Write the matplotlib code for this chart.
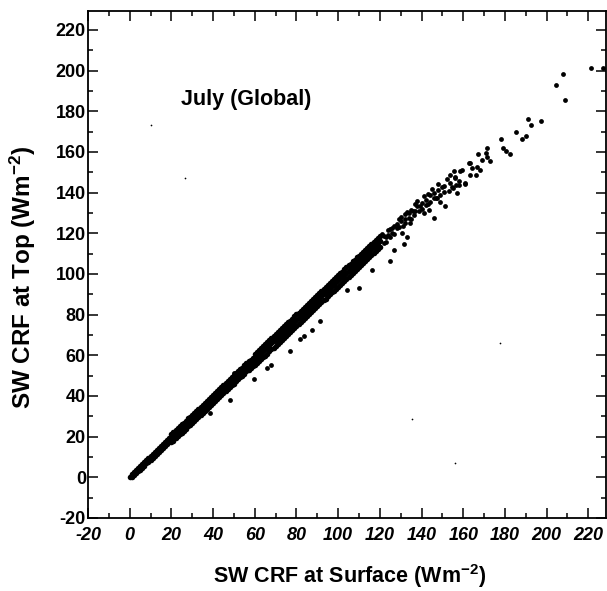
import matplotlib
matplotlib.use("Agg")
import matplotlib.pyplot as plt
from matplotlib.ticker import MultipleLocator

plt.rcParams['font.family'] = ['Liberation Sans', 'DejaVu Sans']
plt.rcParams['mathtext.fontset'] = 'custom'
plt.rcParams['mathtext.rm'] = 'Liberation Sans:bold'
plt.rcParams['mathtext.bf'] = 'Liberation Sans:bold'
plt.rcParams['mathtext.it'] = 'Liberation Sans:bold:italic'
plt.rcParams['axes.unicode_minus'] = False

# ---- data (SW CRF surface, SW CRF top) ----
center_x = [0, 2, 4, 6, 8, 10, 12, 14, 16, 18, 20, 22, 24, 26, 28, 30, 32, 34, 36, 38,
            40, 42, 44, 46, 48, 50, 52, 54, 56, 58, 60, 62, 64, 66, 68, 70, 72, 74, 76, 78,
            80, 82, 84, 86, 88, 90, 92, 94, 96, 98, 100, 102, 104, 106, 108, 110, 112, 114,
            116, 118, 120]
center_y = [0.2, 1.9, 3.9, 5.8, 7.8, 9.6, 11.7, 13.5, 15.6, 17.4, 19.4, 21.3, 23.3, 25.1,
            27.2, 29.0, 31.0, 32.9, 34.9, 36.7, 38.8, 40.6, 42.6, 44.5, 46.5, 48.3, 50.4,
            52.2, 54.3, 56.1, 58.1, 60.0, 62.0, 63.8, 65.9, 67.7, 69.7, 71.6, 73.6, 75.4,
            77.5, 79.3, 81.3, 83.2, 85.2, 87.0, 89.1, 90.9, 92.9, 94.8, 96.8, 98.6, 100.7,
            102.5, 104.5, 106.4, 108.4, 110.2, 112.3, 114.1, 116.1]

odd_x = [1, 3, 5, 7, 9, 11, 13, 15, 17, 19, 21, 23, 25, 27, 29, 31, 33, 35, 37, 39,
         41, 43, 45, 47, 49, 51, 53, 55, 57, 59, 61, 63, 65, 67, 69, 71, 73, 75, 77, 79,
         81, 83, 85, 87, 89, 91, 93, 95, 97, 99, 101, 103, 105, 107, 109, 111, 113, 115,
         117, 119]
center2_y = [1.0, 2.9, 4.8, 6.8, 8.7, 10.6, 12.6, 14.5, 16.5, 18.4, 20.3, 22.3, 24.2,
             26.1, 28.1, 30.0, 31.9, 33.9, 35.8, 37.8, 39.7, 41.6, 43.6, 45.5, 47.4, 49.4,
             51.3, 53.2, 55.2, 57.1, 59.0, 61.0, 62.9, 64.9, 66.8, 68.7, 70.7, 72.6, 74.5,
             76.5, 78.4, 80.3, 82.3, 84.2, 86.2, 88.1, 90.0, 92.0, 93.9, 95.8, 97.8, 99.7,
             101.6, 103.6, 105.5, 107.4, 109.4, 111.3, 113.3, 115.2]
upper_y = [1.8, 3.7, 5.6, 7.6, 9.5, 11.4, 13.4, 15.3, 17.3, 19.2, 22.1, 24.1, 26.0, 27.9,
           29.9, 31.8, 33.7, 35.7, 37.6, 39.6, 41.5, 43.4, 45.4, 47.3, 49.2, 51.2, 53.1,
           55.0, 57.0, 58.9, 61.6, 63.6, 65.5, 67.5, 69.4, 71.3, 73.3, 75.2, 77.1, 79.1,
           81.0, 82.9, 84.9, 86.8, 88.8, 90.7, 92.6, 94.6, 96.5, 98.4, 100.4, 102.3, 104.2,
           106.2, 108.1, 110.0, 112.0, 113.9, 115.9, 117.8]
lower_y = [0.0, 1.9, 3.8, 5.8, 7.7, 9.6, 11.6, 13.5, 15.5, 17.4, 18.1, 20.1, 22.0, 23.9,
           25.9, 27.8, 29.7, 31.7, 33.6, 35.6, 37.5, 39.4, 41.4, 43.3, 45.2, 47.2, 49.1,
           51.0, 53.0, 54.9, 56.0, 58.0, 59.9, 61.9, 63.8, 65.7, 67.7, 69.6, 71.5, 73.5,
           75.4, 77.3, 79.3, 81.2, 83.2, 85.1, 87.0, 89.0, 90.9, 92.8, 94.8, 96.7, 98.6,
           100.6, 102.5, 104.4, 106.4, 108.3, 110.3, 112.2]

even_x = [2, 4, 6, 8, 10, 12, 14, 16, 18, 20, 22, 24, 26, 28, 30, 32, 34, 36, 38, 40,
          42, 44, 46, 48, 50, 52, 54, 56, 58, 60, 62, 64, 66, 68, 70, 72, 74, 76, 78, 80,
          82, 84, 86, 88, 90, 92, 94, 96, 98, 100, 102, 104, 106, 108, 110, 112, 114, 116,
          118, 120]
upper2_y = [2.7, 4.7, 6.6, 8.6, 10.4, 12.5, 14.3, 16.4, 18.2, 21.2, 23.1, 25.1, 26.9,
            29.0, 30.8, 32.8, 34.7, 36.7, 38.5, 40.6, 42.4, 44.4, 46.3, 48.3, 50.1, 52.2,
            54.0, 56.1, 57.9, 60.7, 62.6, 64.6, 66.4, 68.5, 70.3, 72.3, 74.2, 76.2, 78.0,
            80.1, 81.9, 83.9, 85.8, 87.8, 89.6, 91.7, 93.5, 95.5, 97.4, 99.4, 101.2, 103.3,
            105.1, 107.1, 109.0, 111.0, 112.8, 114.9, 116.7, 118.7]
lower2_y = [0.9, 2.9, 4.8, 6.8, 8.6, 10.7, 12.5, 14.6, 16.4, 17.2, 19.1, 21.1, 22.9,
            25.0, 26.8, 28.8, 30.7, 32.7, 34.5, 36.6, 38.4, 40.4, 42.3, 44.3, 46.1, 48.2,
            50.0, 52.1, 53.9, 55.1, 57.0, 59.0, 60.8, 62.9, 64.7, 66.7, 68.6, 70.6, 72.4,
            74.5, 76.3, 78.3, 80.2, 82.2, 84.0, 86.1, 87.9, 89.9, 91.8, 93.8, 95.6, 97.7,
            99.5, 101.5, 103.4, 105.4, 107.2, 109.3, 111.1, 113.1]

upper_band_x = [122, 124, 126, 128, 130, 132, 134, 136, 138, 140, 142, 144, 146, 148,
                123, 127, 131, 135, 139, 143, 147, 125, 129, 133, 137, 141, 145,
                121.8, 125.0, 128.2, 130.6, 133.0, 134.6, 136.2, 139.4, 141.0, 143.4,
                145.8, 144.2, 147.4, 149.0, 150.6, 151.4, 153.8, 157.0, 156.2, 158.6,
                161.0, 162.6, 155.4, 157.8,
                121, 123, 124, 126, 127, 129, 130, 132, 132, 134, 135, 137, 138, 140,
                142, 143, 146, 148, 150, 152, 149, 153]
upper_band_y = [118.5, 119.3, 122.8, 124.5, 126.2, 127.0, 129.8, 131.0, 133.5, 135.0,
                136.2, 138.8, 140.0, 141.5, 115.5, 119.5, 123.8, 127.2, 131.0, 134.5,
                137.5, 122.0, 126.8, 130.5, 134.6, 138.3, 141.8,
                115.2, 118.4, 122.5, 120.1, 118.4, 125.0, 129.1, 133.2, 129.9, 131.5,
                127.5, 135.6, 137.3, 138.9, 140.5, 133.2, 144.6, 139.7, 147.1, 150.4,
                144.6, 154.5, 150.4, 143.8,
                119.5, 118.0, 121.8, 120.0, 123.5, 123.0, 128.2, 125.0, 129.5, 127.5,
                131.5, 131.0, 136.0, 132.0, 134.0, 139.5, 137.3, 144.0, 143.0, 146.5,
                135.5, 141.0]

tail_x = [153.8, 156.2, 157.8, 159.4, 161.0, 163.4, 164.2, 166.6, 168.2, 166.0, 163.4,
          166.9, 169.0, 171.4, 173.0, 171.1, 150.6, 154.6, 156.6, 155.0, 171.4, 178.1,
          185.3, 190.9, 197.1, 192.3, 188.2, 190.1, 179.1, 180.5, 182.6, 204.6, 208.1,
          208.6, 221.4, 227.0]
tail_y = [148.7, 147.9, 145.9, 151.2, 144.3, 154.5, 152.0, 152.5, 151.2, 148.7, 148.7,
          159.1, 156.1, 157.4, 155.3, 159.7, 143.3, 143.0, 143.7, 142.1, 161.9, 166.6,
          169.7, 176.3, 175.3, 173.0, 166.6, 167.6, 161.9, 160.7, 158.9, 193.1, 198.5,
          185.3, 201.2, 201.2]

outlier_x = [38.7, 48.0, 49.9, 59.8, 65.9, 68.0, 76.7, 81.9, 83.5, 87.5, 91.5, 104.3,
             109.8, 116.3, 125.0, 126.6, 131.4, 114.6]
outlier_y = [31.6, 37.8, 51.3, 48.5, 53.8, 55.4, 62.3, 68.0, 69.3, 72.6, 77.0, 92.2,
             93.0, 102.0, 106.2, 111.9, 114.8, 110.3]

speck_x = [10.0, 26.7, 135.2, 156.2, 177.8]
speck_y = [173.3, 147.2, 28.8, 7.1, 66.2]

x_ticks = [-20, 0, 20, 40, 60, 80, 100, 120, 140, 160, 180, 200, 220]
y_ticks = [-20, 0, 20, 40, 60, 80, 100, 120, 140, 160, 180, 200, 220]

# ---- figure ----
fig = plt.figure(figsize=(6.07, 5.91), dpi=100)
ax = fig.add_axes([88 / 607, 1 - 518 / 591, (606 - 88) / 607, (518 - 11) / 591])

band_ms = 16
for xs, ys in [(center_x, center_y), (odd_x, center2_y), (odd_x, upper_y),
               (odd_x, lower_y), (even_x, upper2_y), (even_x, lower2_y)]:
    ax.scatter(xs, ys, s=band_ms, c='black', linewidths=0, marker='o')
for xs, ys in [(upper_band_x, upper_band_y), (tail_x, tail_y), (outlier_x, outlier_y)]:
    ax.scatter(xs, ys, s=12, c='black', linewidths=0, marker='o')
ax.scatter(speck_x, speck_y, s=1.5, c='black', linewidths=0)

ax.set_xlim(-20, 228.5)
ax.set_ylim(-20, 229.3)
ax.set_xticks(x_ticks)
ax.set_yticks(y_ticks)
ax.xaxis.set_minor_locator(MultipleLocator(10))
ax.yaxis.set_minor_locator(MultipleLocator(10))
ax.tick_params(which='both', direction='in', top=True, right=True, width=1.1)
ax.tick_params(which='major', length=7)
ax.tick_params(which='minor', length=3.5)
ax.tick_params(axis='x', which='major', pad=6.5)
ax.tick_params(axis='y', which='major', pad=1.5)
for lab in ax.get_xticklabels():
    lab.set_fontsize(13)
    lab.set_fontweight('bold')
    lab.set_fontstyle('italic')
for lab in ax.get_yticklabels():
    lab.set_fontsize(13)
    lab.set_fontweight('bold')
for sp in ax.spines.values():
    sp.set_linewidth(1.3)

ax.text(56, 185.6, 'July (Global)', fontsize=15.5, fontweight='bold',
        ha='center', va='center')

fig.text(350 / 607, 1 - 576 / 591, 'SW CRF at Surface (Wm$^{\\mathbf{-2}}$)',
         fontsize=15.5, fontweight='bold', ha='center', va='center')
fig.text(22.5 / 607, 1 - 277.5 / 591, 'SW CRF at Top (Wm$^{\\mathbf{-2}}$)',
         fontsize=17.5, fontweight='bold', ha='center', va='center', rotation=90)

fig.savefig('out.png', dpi=100)
